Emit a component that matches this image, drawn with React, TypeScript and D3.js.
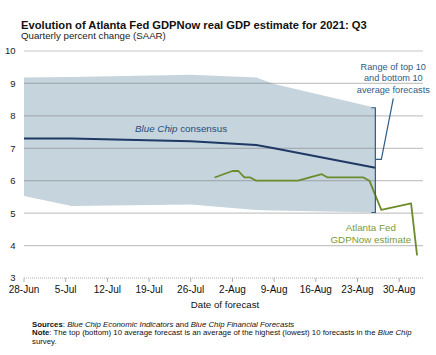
import React from "react";
import * as d3 from "d3";

const bandDates = ["2021-06-28", "2021-07-06", "2021-07-26", "2021-08-06", "2021-08-09", "2021-08-26"];
const top10 = [9.18, 9.2, 9.27, 9.18, 8.98, 8.25];
const bottom10 = [5.53, 5.22, 5.27, 5.1, 5.08, 5.02];
const consensus = [7.3, 7.3, 7.22, 7.1, 7.0, 6.4];

const gdpNowDates = [
  "2021-07-30", "2021-08-02", "2021-08-03", "2021-08-04", "2021-08-05", "2021-08-06",
  "2021-08-13", "2021-08-17", "2021-08-18", "2021-08-24", "2021-08-25", "2021-08-27",
  "2021-09-01", "2021-09-02",
];
const gdpNow = [6.1, 6.3, 6.3, 6.1, 6.1, 6.0, 6.0, 6.2, 6.1, 6.1, 6.0, 5.1, 5.3, 3.7];

const xTickDates = ["2021-06-28", "2021-07-05", "2021-07-12", "2021-07-19", "2021-07-26", "2021-08-02", "2021-08-09", "2021-08-16", "2021-08-23", "2021-08-30"];
const xTickLabels = ["28-Jun", "5-Jul", "12-Jul", "19-Jul", "26-Jul", "2-Aug", "9-Aug", "16-Aug", "23-Aug", "30-Aug"];
const yTicks = [3, 4, 5, 6, 7, 8, 9, 10];

const parse = d3.utcParse("%Y-%m-%d");
const FONT = "'Liberation Sans', Arial, sans-serif";

export default function App() {
  const x = d3.scaleUtc().domain([parse("2021-06-28")!, parse("2021-09-03")!]).range([24, 423]);
  const y = d3.scaleLinear().domain([3, 10]).range([278, 51]);

  const bandData = bandDates.map((d, i) => ({ d: parse(d)!, hi: top10[i], lo: bottom10[i], c: consensus[i] }));
  const area = d3.area<any>().x((p) => x(p.d)).y0((p) => y(p.lo)).y1((p) => y(p.hi));
  const consLine = d3.line<any>().x((p) => x(p.d)).y((p) => y(p.c));
  const gdpData = gdpNowDates.map((d, i) => ({ d: parse(d)!, v: gdpNow[i] }));
  const gdpLine = d3.line<any>().x((p) => x(p.d)).y((p) => y(p.v));

  const last = bandData[bandData.length - 1];
  const bx = x(last.d);
  const byTop = y(last.hi);
  const byBot = y(last.lo);
  const byMid = 159.3;

  return (
    <svg width={436} height={355} style={{ position: "absolute", left: 0, top: 0, background: "#fff" }} fontFamily={FONT}>
      <text x={21} y={29} fontSize={11.2} fontWeight="bold" fill="#111">
        Evolution of Atlanta Fed GDPNow real GDP estimate for 2021: Q3
      </text>
      <text x={21} y={38.8} fontSize={9.7} fill="#222">Quarterly percent change (SAAR)</text>

      <path d={area(bandData)!} fill="#c6d4dd" />

      {yTicks.filter((t) => t > 3).map((t) => (
        <line key={t} x1={24} x2={423} y1={y(t)} y2={y(t)} stroke="rgba(120,120,120,0.42)" strokeWidth={1.2} />
      ))}
      {yTicks.map((t) => (
        <text key={"l" + t} x={15.5} y={y(t) + 3.4} fontSize={9.5} textAnchor="end" fill="#222">{t}</text>
      ))}

      <line x1={24} x2={423} y1={278} y2={278} stroke="#b0b0b0" strokeWidth={1} strokeDasharray="1,1" />
      {xTickDates.map((d, i) => (
        <g key={d}>
          <line x1={x(parse(d)!)} x2={x(parse(d)!)} y1={278} y2={282} stroke="#b0b0b0" strokeWidth={1} />
          <text x={x(parse(d)!)} y={292.5} fontSize={10} textAnchor="middle" fill="#111">{xTickLabels[i]}</text>
        </g>
      ))}
      <text x={225} y={307.8} fontSize={9.7} textAnchor="middle" fill="#111">Date of forecast</text>

      <path d={consLine(bandData)!} fill="none" stroke="#1f3864" strokeWidth={2} />
      <path d={gdpLine(gdpData)!} fill="none" stroke="#6b8c2a" strokeWidth={1.8} strokeLinejoin="round" />

      <path
        d={`M${bx - 4},${byTop} H${bx} V${byBot} H${bx - 4} M${bx},${byMid} H${bx + 6} L393.3,98.3`}
        fill="none" stroke="#2f5b88" strokeWidth={1.2}
      />

      <g fontSize={9.2} fill="#2f5b88" textAnchor="middle">
        <text x={393.3} y={70}>Range of top 10</text>
        <text x={393.3} y={81.3}>and bottom 10</text>
        <text x={393.3} y={92.6}>average forecasts</text>
      </g>

      <text x={135} y={132.4} fontSize={9.8} fill="#1f4e79">
        <tspan fontStyle="italic">Blue Chip</tspan> consensus
      </text>

      <g fontSize={9.8} fill="#7a9a33" textAnchor="middle">
        <text x={370.8} y={231}>Atlanta Fed</text>
        <text x={370.8} y={242.6}>GDPNow estimate</text>
      </g>

      <g fontSize={7.8} fill="#111">
        <text x={32} y={327}>
          <tspan fontWeight="bold">Sources</tspan>: <tspan fontStyle="italic">Blue Chip Economic Indicators</tspan> and <tspan fontStyle="italic">Blue Chip Financial Forecasts</tspan>
        </text>
        <text x={32} y={335.3}>
          <tspan fontWeight="bold">Note</tspan>: The top (bottom) 10 average forecast is an average of the highest (lowest) 10 forecasts in the <tspan fontStyle="italic">Blue Chip</tspan>
        </text>
        <text x={32} y={343.6}>survey.</text>
      </g>
    </svg>
  );
}
